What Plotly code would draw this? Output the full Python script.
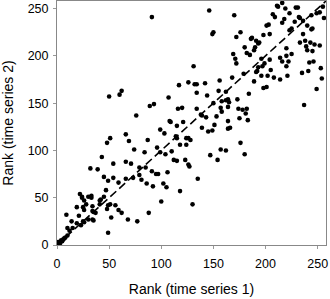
import plotly.graph_objects as go

rank_ts1 = [
    91, 50, 60, 62, 89, 93, 107, 117, 126, 76, 116, 120, 109, 108, 115, 121, 99,
    103, 114, 115, 66, 51, 48, 69, 87, 74, 84, 96, 99, 104, 110, 43, 32, 39, 54, 66, 71, 79, 85, 91,
    95, 97, 106, 112, 115, 123, 124, 118, 124, 118, 126, 45, 54, 49, 59, 66, 73, 79, 81, 86,
    92, 102, 105, 100, 88, 77, 68, 49, 51, 56, 59, 62, 52, 41, 41, 42, 48, 45, 47, 34,
    34, 35, 37, 35, 34, 33, 33, 24, 24, 22, 30, 26, 28, 19, 25, 26, 21, 30, 25, 26,
    23, 19, 14, 15, 12, 10, 9, 49, 10,
    1, 1, 2, 4, 6, 7, 8, 3, 5,
    146, 170, 149, 150, 131, 132, 134, 134, 142, 144, 156, 155, 150, 158, 162, 164, 165, 157, 158, 173,
    178, 181, 183, 175, 164, 153, 143, 138, 139, 134, 139, 151, 166, 169, 171, 172, 176, 172, 180, 182,
    185, 186, 187, 191, 193, 194, 190, 189, 198, 201, 203, 204, 207, 209, 211, 212, 216, 218, 223, 216,
    219, 229, 231, 228, 232, 233, 225, 223, 236, 252, 255, 256, 249, 244, 244, 245, 240, 236, 233, 238,
    243, 239, 247, 252, 240, 245, 246, 242, 235, 241, 253, 254, 249, 237, 225, 220, 220, 214, 216, 222,
    220, 204, 196, 199, 197, 193, 192, 191, 205, 196, 202, 208, 214, 221, 198, 201, 189, 184, 179, 168,
    162, 182, 164, 174,
    145, 149, 164, 126, 128, 127, 135, 130, 147, 154, 157, 162, 176, 180,
]
rank_ts2 = [
    241, 157, 159, 163, 147, 149, 156, 169, 172, 137, 144, 145, 130, 131, 126, 130, 122,
    118, 115, 113, 117, 113, 108, 110, 111, 101, 98, 103, 98, 96, 99, 93, 81, 80, 86, 88, 86, 82, 82, 78,
    75, 75, 77, 90, 89, 90, 106, 106, 113, 57, 85, 72, 71, 68, 66, 70, 71, 74, 69, 65,
    62, 65, 61, 46, 34, 25, 27, 42, 43, 42, 37, 34, 29, 43, 47, 48, 38, 51, 58, 41,
    36, 35, 34, 26, 27, 52, 50, 51, 50, 54, 51, 47, 43, 40, 40, 37, 31, 27, 25, 24,
    21, 23, 25, 18, 15, 10, 32, 13, 18,
    1, 3, 3, 5, 6, 7, 8, 2, 4,
    248, 243, 223, 225, 189, 170, 170, 161, 171, 158, 174, 163, 150, 152, 153, 154, 151, 145, 141, 154,
    143, 139, 132, 134, 131, 136, 135, 138, 137, 144, 124, 127, 124, 202, 197, 192, 225, 220, 209, 203,
    201, 218, 219, 216, 213, 214, 209, 206, 222, 232, 233, 223, 244, 241, 253, 252, 256, 239, 245, 235,
    250, 251, 251, 236, 241, 240, 229, 227, 237, 246, 252, 240, 245, 243, 228, 229, 232, 223, 214, 216,
    214, 210, 212, 211, 206, 205, 194, 193, 182, 184, 187, 176, 165, 148, 202, 208, 200, 198, 194, 194,
    189, 196, 197, 192, 189, 188, 184, 183, 185, 179, 179, 177, 175, 179, 166, 167, 173, 160, 181, 177,
    162, 144, 146, 144,
    120, 121, 123, 113, 111, 83, 70, 43, 95, 90, 101, 100, 108, 96,
]
diag = [0, 258]
x_ticks = [0, 50, 100, 150, 200, 250]
y_ticks = [0, 50, 100, 150, 200, 250]

fig = go.Figure()
fig.add_trace(go.Scatter(x=rank_ts1, y=rank_ts2, mode="markers",
                         marker=dict(color="black", size=4.6, line=dict(width=0)),
                         showlegend=False, hoverinfo="skip"))
fig.add_trace(go.Scatter(x=diag, y=diag, mode="lines",
                         line=dict(color="black", width=1.6, dash="8px,4px"),
                         showlegend=False, hoverinfo="skip"))

axis_common = dict(range=[0, 258], showgrid=False, zeroline=False, showline=True,
                   linecolor="#888888", linewidth=1, mirror=True, ticks="outside",
                   ticklen=3, tickcolor="#999999", tickwidth=1,
                   tickfont=dict(family="Liberation Sans, Arial", size=12.5, color="black"))
fig.update_xaxes(**axis_common, tickvals=x_ticks, ticklabelstandoff=4,
                 title=dict(text="Rank (time series 1)", standoff=14,
                            font=dict(family="Liberation Sans, Arial", size=14, color="black")))
fig.update_yaxes(**axis_common, tickvals=y_ticks, ticklabelstandoff=2,
                 title=dict(text="Rank (time series 2)", standoff=10,
                            font=dict(family="Liberation Sans, Arial", size=14, color="black")))
fig.update_layout(width=330, height=299, margin=dict(l=57, r=4, t=1, b=54),
                  plot_bgcolor="white", paper_bgcolor="white")
fig.write_html("out.html")
